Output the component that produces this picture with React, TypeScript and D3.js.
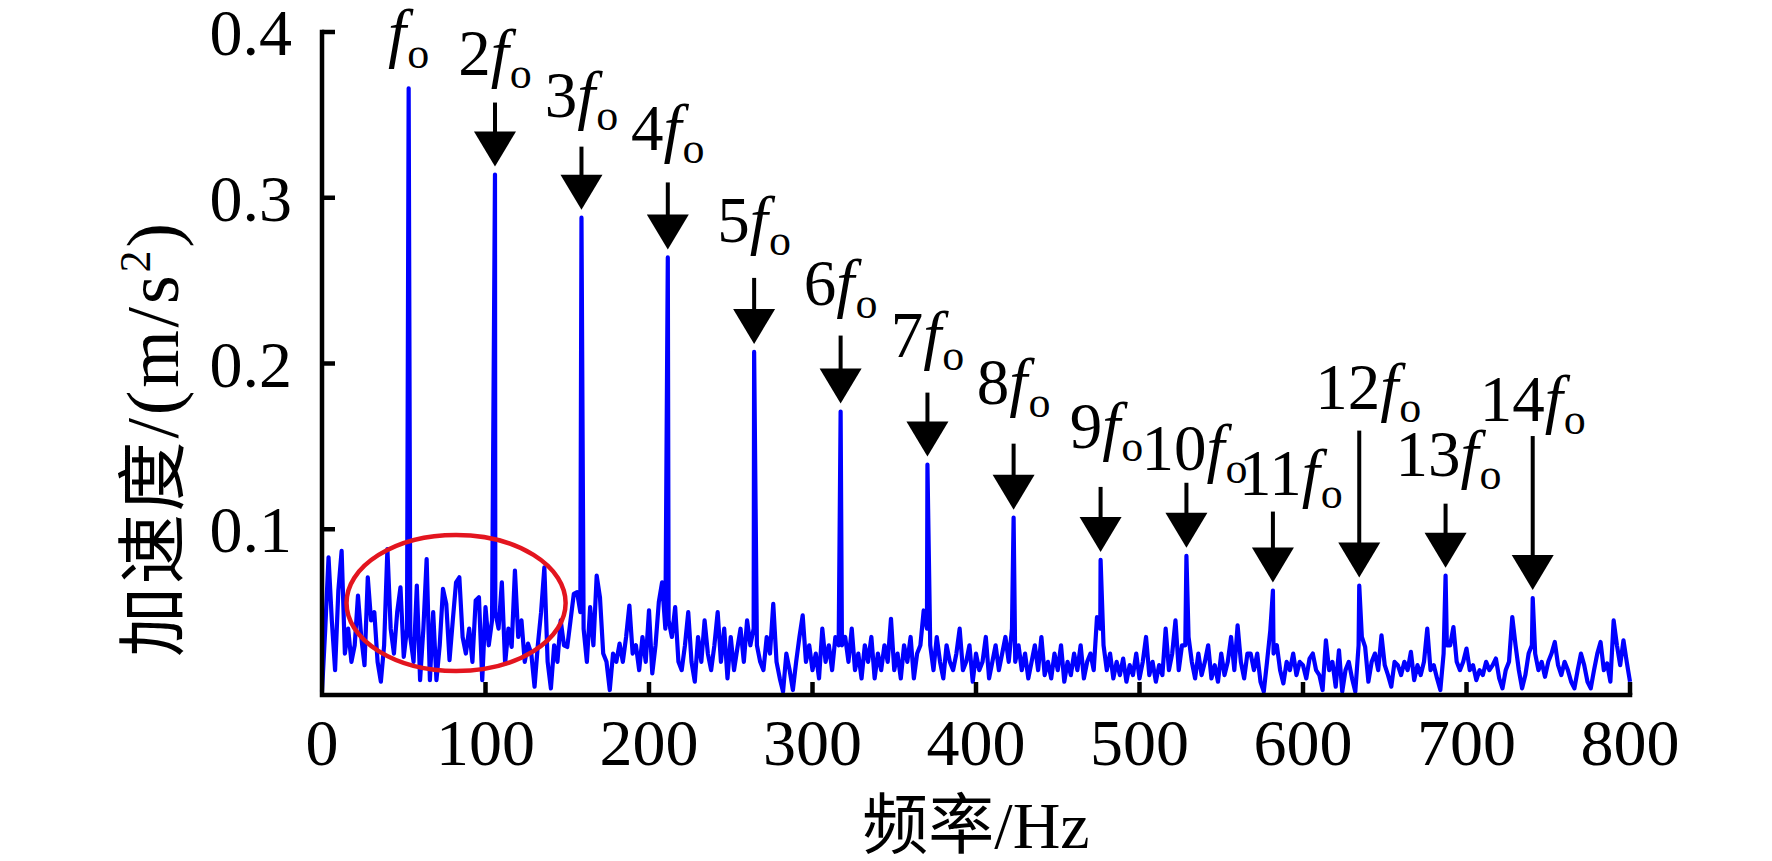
import * as d3 from "d3";

// harmonic peaks (Hz, m/s^2)
const harmonicOrder = [1, 2, 3, 4, 5, 6, 7, 8, 9, 10, 11, 12, 13, 14];
const harmonicFreq = [53.0, 105.8, 158.7, 211.5, 264.3, 317.2, 370.3, 423.0, 476.2, 528.7, 581.6, 634.4, 687.2, 740.5];
const harmonicAmp = [0.366, 0.314, 0.288, 0.264, 0.207, 0.171, 0.139, 0.107, 0.0815, 0.084, 0.063, 0.066, 0.072, 0.0585];

// background spectrum on a 2 Hz grid, 0..800 Hz, in 0.001 m/s^2
const noiseStep = 2;
const noise = [
  2, 40, 83, 45, 15, 63, 87, 25, 40, 20,
  30, 60, 35, 18, 71, 45, 50, 20, 8, 30,
  88, 40, 25, 50, 65, 23, 40, 35, 20, 66,
  9, 40, 82, 9, 50, 9, 30, 64, 55, 21,
  45, 68, 71, 35, 25, 40, 20, 57, 59, 9,
  53, 30, 45, 50, 40, 68, 19, 40, 29, 75,
  35, 45, 20, 31, 25, 5, 30, 50, 77, 20,
  4, 30, 20, 45, 30, 29, 45, 61, 62, 50,
  40, 20, 53, 30, 72, 59, 25, 20, 3, 25,
  20, 31, 20, 35, 54, 25, 30, 15, 35, 20,
  51, 13, 30, 56, 68, 40, 45, 35, 53, 20,
  15, 30, 50, 20, 8, 35, 20, 45, 25, 15,
  30, 50, 20, 40, 10, 35, 15, 28, 40, 20,
  45, 30, 40, 30, 20, 15, 35, 25, 55, 20,
  10, 2, 25, 15, 3, 20, 35, 48, 20, 30,
  15, 25, 10, 40, 20, 30, 15, 35, 30, 30,
  35, 20, 40, 15, 25, 10, 30, 20, 35, 10,
  25, 15, 30, 20, 46, 15, 25, 10, 30, 20,
  35, 10, 25, 30, 51, 40, 30, 15, 35, 20,
  10, 30, 20, 15, 25, 40, 15, 20, 30, 8,
  25, 15, 20, 35, 10, 20, 30, 15, 25, 35,
  20, 40, 20, 30, 15, 25, 10, 20, 30, 15,
  35, 12, 20, 10, 25, 15, 30, 8, 20, 12,
  25, 15, 30, 10, 20, 25, 15, 47, 40, 30,
  15, 25, 10, 20, 12, 22, 8, 18, 12, 25,
  10, 20, 35, 12, 20, 8, 18, 12, 40, 15,
  25, 45, 15, 30, 30, 35, 20, 10, 25, 12,
  20, 30, 10, 18, 8, 25, 12, 20, 35, 15,
  42, 20, 10, 25, 25, 15, 25, 8, 2, 20,
  39, 25, 30, 15, 7, 20, 15, 25, 12, 20,
  18, 10, 22, 25, 15, 12, 3, 33, 15, 20,
  5, 27, 2, 15, 20, 10, 2, 30, 35, 29,
  8, 20, 25, 15, 36, 18, 12, 5, 20, 18,
  12, 20, 15, 26, 9, 18, 12, 20, 40, 15,
  18, 10, 3, 25, 30, 30, 41, 20, 15, 20,
  28, 15, 18, 9, 15, 12, 20, 15, 18, 22,
  10, 4, 15, 20, 47, 30, 15, 4, 12, 25,
  30, 25, 15, 20, 11, 20, 25, 32, 18, 12,
  20, 15, 8, 4, 15, 25, 18, 8, 4, 15,
  25, 32, 15, 19, 8, 45, 30, 18, 33, 20,
  8,
];

const xTicks = [0, 100, 200, 300, 400, 500, 600, 700, 800];
const yTicks = [0.1, 0.2, 0.3, 0.4];
const yTickLabels = ["0.1", "0.2", "0.3", "0.4"];
const xTitle = "频率/Hz";
const yTitleCjk = "加速度";
const yTitleUnit = "/(m/s";
const yTitleSup = "2";

// highlighted low-frequency region (Hz, m/s^2)
const ringCenter = [82, 0.0555];
const ringRadius = [67, 0.041];

// arrow / label layout per harmonic (pixels)
const arrowLen = [0, 72, 71, 75, 74, 76, 72, 74, 73, 73, 79, 155, 72, 162];
const labelGap = [33, 28, 30, 32, 36, 31, 36, 40, 39, 13, 17, 22, 28, 15];
const labelDx = [0, 0, 0, 0, 0, 0, 0, 0, 6, 8, 18, 9, 3, 0];

const W = 1772;
const H = 861;
const serif = "'Times New Roman', 'Liberation Serif', 'Noto Sans CJK SC', serif";

export default function App() {
  const x = d3.scaleLinear([0, 800], [322, 1630]);
  const y = d3.scaleLinear([0, 0.4], [695, 32]);

  const pts: [number, number][] = noise.map((v, i) => [i * noiseStep, v / 1000]);
  harmonicFreq.forEach((f, i) => pts.push([f, harmonicAmp[i]]));
  pts.sort((a, b) => a[0] - b[0]);

  const line = d3
    .line<[number, number]>()
    .x((d) => x(d[0]))
    .y((d) => y(d[1]));

  const tick = 13;

  return (
    <svg
      width={W}
      height={H}
      style={{ position: "absolute", left: 0, top: 0, background: "#fff" }}
      fontFamily={serif}
    >
      {/* spectrum */}
      <path
        d={line(pts) as string}
        fill="none"
        stroke="#0000ff"
        strokeWidth={4.2}
        strokeLinejoin="round"
      />

      {/* axes */}
      <g stroke="#000" strokeWidth={4.5} fill="none">
        <path d={`M${x(0)},${y(0.4)}V${y(0)}H${x(800)}`} strokeLinecap="square" />
        {yTicks.map((t) => (
          <line key={t} x1={x(0)} x2={x(0) + tick} y1={y(t)} y2={y(t)} />
        ))}
        {xTicks.slice(1).map((t) => (
          <line key={t} x1={x(t)} x2={x(t)} y1={y(0)} y2={y(0) - tick} />
        ))}
      </g>
      <g fontSize={66} fill="#000">
        {yTicks.map((t, i) => (
          <text key={t} x={x(0) - 30} y={y(t) + 23} textAnchor="end">
            {yTickLabels[i]}
          </text>
        ))}
        {xTicks.map((t) => (
          <text key={t} x={x(t)} y={765} textAnchor="middle">
            {t}
          </text>
        ))}
      </g>
      <text x={976} y={848} fontSize={66} textAnchor="middle">
        {xTitle}
      </text>
      <text
        transform={`translate(178,657) rotate(-90)`}
        fontSize={70}
        textAnchor="start"
        textLength={434}
        lengthAdjust="spacing"
      >
        {yTitleCjk}
        <tspan fontSize={74}>{yTitleUnit}</tspan>
        <tspan fontSize={44} dy={-28}>
          {yTitleSup}
        </tspan>
        <tspan fontSize={74} dy={28}>
          )
        </tspan>
      </text>

      {/* highlight ring */}
      <ellipse
        cx={x(ringCenter[0])}
        cy={y(ringCenter[1])}
        rx={x(ringCenter[0] + ringRadius[0]) - x(ringCenter[0])}
        ry={y(0) - y(ringRadius[1])}
        fill="none"
        stroke="#e3151f"
        strokeWidth={4.5}
      />

      {/* harmonic arrows and labels */}
      {harmonicOrder.map((k, i) => {
        const px = x(harmonicFreq[i]);
        const py = y(harmonicAmp[i]);
        const tip = py - 8;
        const triTop = tip - 35;
        const shaftTop = py - arrowLen[i];
        const base = k === 1 ? py - labelGap[i] : shaftTop - labelGap[i];
        return (
          <g key={k}>
            {k > 1 && (
              <>
                <line x1={px} x2={px} y1={shaftTop} y2={triTop + 1} stroke="#000" strokeWidth={4} />
                <path d={`M${px - 21},${triTop}L${px + 21},${triTop}L${px},${tip}Z`} fill="#000" />
              </>
            )}
            <text x={px + labelDx[i]} y={base} fontSize={65} textAnchor="middle">
              {k > 1 ? <tspan>{k}</tspan> : null}
              <tspan fontStyle="italic">f</tspan>
              <tspan fontSize={44} dx={1} dy={13}>
                o
              </tspan>
            </text>
          </g>
        );
      })}
    </svg>
  );
}
